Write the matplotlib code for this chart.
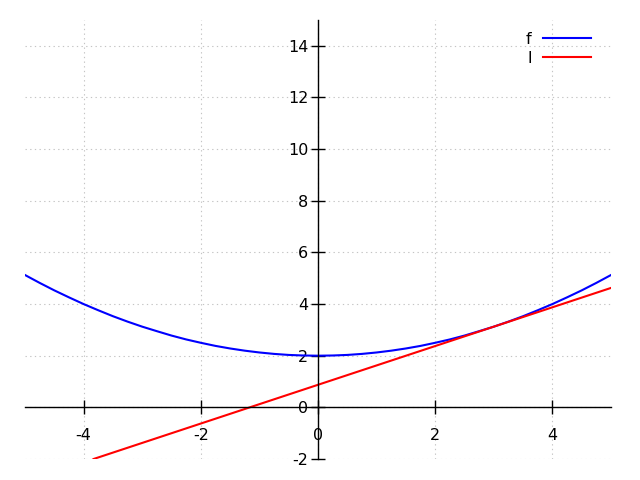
import matplotlib
matplotlib.use("Agg")
import matplotlib.pyplot as plt

# curve f
fx = [-5.0, -4.75, -4.5, -4.25, -4.0, -3.75, -3.5, -3.25, -3.0, -2.75, -2.5,
      -2.25, -2.0, -1.75, -1.5, -1.25, -1.0, -0.75, -0.5, -0.25, 0.0,
      0.25, 0.5, 0.75, 1.0, 1.25, 1.5, 1.75, 2.0, 2.25, 2.5,
      2.75, 3.0, 3.25, 3.5, 3.75, 4.0, 4.25, 4.5, 4.75, 5.0]
fy = [5.125, 4.82, 4.53, 4.26, 4.0, 3.76, 3.53, 3.32, 3.125, 2.95, 2.78,
      2.63, 2.5, 2.38, 2.28, 2.195, 2.125, 2.07, 2.03, 2.008, 2.0,
      2.008, 2.03, 2.07, 2.125, 2.195, 2.28, 2.38, 2.5, 2.63, 2.78,
      2.95, 3.125, 3.32, 3.53, 3.76, 4.0, 4.26, 4.53, 4.82, 5.125]
# line l endpoints
lx = [-3.83, 5.0]
ly = [-2.0, 4.625]

xticks = [-4, -2, 0, 2, 4]
yticks = [-2, 0, 2, 4, 6, 8, 10, 12, 14]

fig = plt.figure(figsize=(6.4, 4.8), dpi=100)
ax = fig.add_axes([25/640, 1-459/480, 586/640, 439/480])
ax.plot(fx, fy, color='#0000ff', lw=1.5, label='f')
ax.plot(lx, ly, color='#ff0000', lw=1.5, label='l')
ax.set_xlim(-5, 5)
ax.set_ylim(-2, 15)

ax.spines['left'].set_position(('data', 0))
ax.spines['bottom'].set_position(('data', 0))
ax.spines['right'].set_visible(False)
ax.spines['top'].set_visible(False)
for s in ('left', 'bottom'):
    ax.spines[s].set_linewidth(1.0)

ax.set_xticks(xticks)
ax.set_yticks(yticks)
ax.set_xticklabels([str(t) for t in xticks])
ax.set_yticklabels([str(t) for t in yticks])
ax.tick_params(axis='both', direction='inout', length=10, width=1.0, labelsize=11.5)
ax.tick_params(axis='x', pad=10)
ax.tick_params(axis='y', pad=2)

ax.grid(True, color='#c4c4c4', linestyle=(0, (1.2, 3.0)), linewidth=0.8)
ax.set_axisbelow(True)

ax.legend(loc='upper right', bbox_to_anchor=(0.99, 1.006), frameon=False,
          markerfirst=False, fontsize=11.5, handlelength=3.0,
          labelspacing=0.25, handletextpad=0.7)

fig.savefig('out.png', dpi=100)
